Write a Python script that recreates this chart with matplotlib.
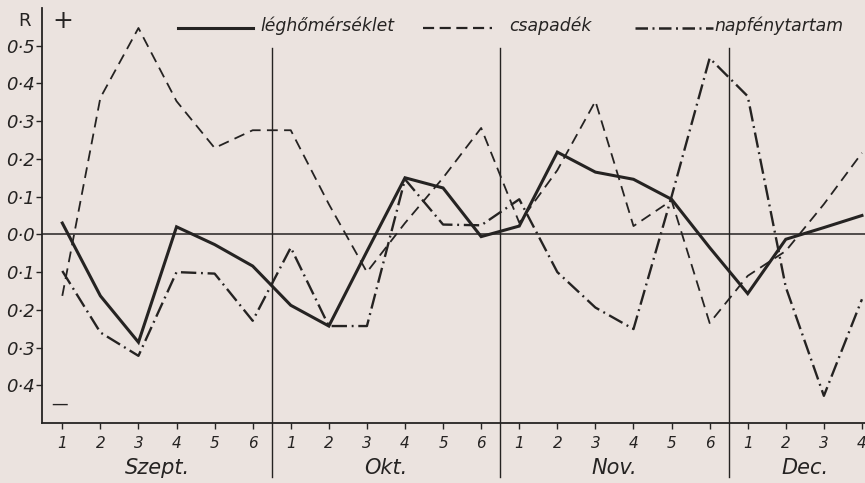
import matplotlib.pyplot as plt
from matplotlib.lines import Line2D
from matplotlib.transforms import blended_transform_factory

# months and the number of periods in each
months = ["Szept.", "Okt.", "Nov.", "Dec."]
month_len = [6, 6, 6, 4]
day_labels = ["1", "2", "3", "4", "5", "6", "1", "2", "3", "4", "5", "6",
              "1", "2", "3", "4", "5", "6", "1", "2", "3", "4"]

# correlation coefficients R
leghomerseklet = [0.03, -0.163, -0.286, 0.02, -0.027, -0.084,
                  -0.188, -0.243, -0.045, 0.15, 0.123, -0.006,
                  0.022, 0.218, 0.165, 0.146, 0.093, -0.035,
                  -0.157, -0.013, 0.018, 0.05]
csapadek = [-0.163, 0.362, 0.547, 0.353, 0.229, 0.276,
            0.276, 0.08, -0.10, 0.03, 0.15, 0.282,
            0.031, 0.17, 0.353, 0.022, 0.09, -0.235,
            -0.11, -0.044, 0.08, 0.216]
napfeny = [-0.097, -0.26, -0.322, -0.10, -0.104, -0.229,
           -0.035, -0.243, -0.243, 0.146, 0.026, 0.024,
           0.093, -0.10, -0.194, -0.251, 0.10, 0.467,
           0.366, -0.14, -0.428, -0.172]

ytick_vals = [0.5, 0.4, 0.3, 0.2, 0.1, 0.0, -0.1, -0.2, -0.3, -0.4]

bg = "#ebe3df"
ink = "#252322"
fam = ["DejaVu Sans"]

fig = plt.figure(figsize=(8.65, 4.83), dpi=100, facecolor=bg)
ax = fig.add_axes([42.3 / 865, 60 / 483, 1 - 42.3 / 865, 415 / 483])
ax.set_facecolor(bg)

dash = (0, (6, 3.5))
dashdot = (0, (6.5, 2, 0.8, 2))

x = list(range(len(day_labels)))
ax.plot(x, leghomerseklet, color=ink, lw=2.2, solid_joinstyle="miter")
ax.plot(x, csapadek, color=ink, lw=1.3, linestyle=dash)
ax.plot(x, napfeny, color=ink, lw=1.7, linestyle=dashdot)

ax.set_xlim(-0.525, 21.08)
ax.set_ylim(-0.5, 0.6)

ax.axhline(0, color=ink, lw=1.1)

# month separators, they run below the axis
start = 0
for i, n in enumerate(month_len):
    mid = start + (n - 1) / 2
    ax.text(mid, -0.108, months[i], transform=blended_transform_factory(ax.transData, ax.transAxes),
            ha="center", va="center", fontsize=15, style="italic", family=fam, color=ink)
    start += n
    if i < len(month_len) - 1:
        ax.plot([start - 0.5, start - 0.5], [-0.643, 0.495], color=ink, lw=1.0, clip_on=False)

for s in ["top", "right"]:
    ax.spines[s].set_visible(False)
for s in ["left", "bottom"]:
    ax.spines[s].set_color(ink)
    ax.spines[s].set_linewidth(1.3)

ax.set_xticks(x)
ax.set_xticklabels(day_labels, style="italic", family=fam, fontsize=11, color=ink)
ax.set_yticks(ytick_vals)
ax.set_yticklabels([("%.1f" % abs(v)).replace(".", "\u00b7") for v in ytick_vals],
                   style="italic", family=fam, fontsize=13, color=ink)
ax.tick_params(axis="x", length=4, width=1, color=ink, pad=5)
ax.tick_params(axis="y", length=4, width=1, color=ink, pad=1)

# legend drawn on top of the figure
def px(xp, yp):
    return xp / 865, 1 - yp / 483

legend = [("léghőmérséklet", dict(lw=2.2, ls="-"), 178, 253, 260),
          ("csapadék", dict(lw=1.6, ls=(0, (5, 2.5))), 423, 492, 509),
          ("napfénytartam", dict(lw=1.8, ls=(0, (5, 1.8, 0.8, 1.8))), 635, 713, 714)]
for label, style, x0, x1, tx in legend:
    a, yy = px(x0, 28)
    b, _ = px(x1, 28)
    fig.add_artist(Line2D([a, b], [yy, yy], color=ink, transform=fig.transFigure, **style))
    fig.text(tx / 865, 1 - 26 / 483, label, ha="left", va="center", fontsize=12.4,
             style="italic", family=fam, color=ink)

fig.text(24 / 865, 1 - 21 / 483, "R", ha="center", va="center", fontsize=13, family=fam, color=ink)
fig.text(63 / 865, 1 - 21 / 483, "+", ha="center", va="center", fontsize=18, family=fam, color=ink)
fig.text(60 / 865, 1 - 404 / 483, "\u2014", ha="center", va="center", fontsize=12, family=fam, color=ink)

fig.savefig("out.png", dpi=100, facecolor=bg)
